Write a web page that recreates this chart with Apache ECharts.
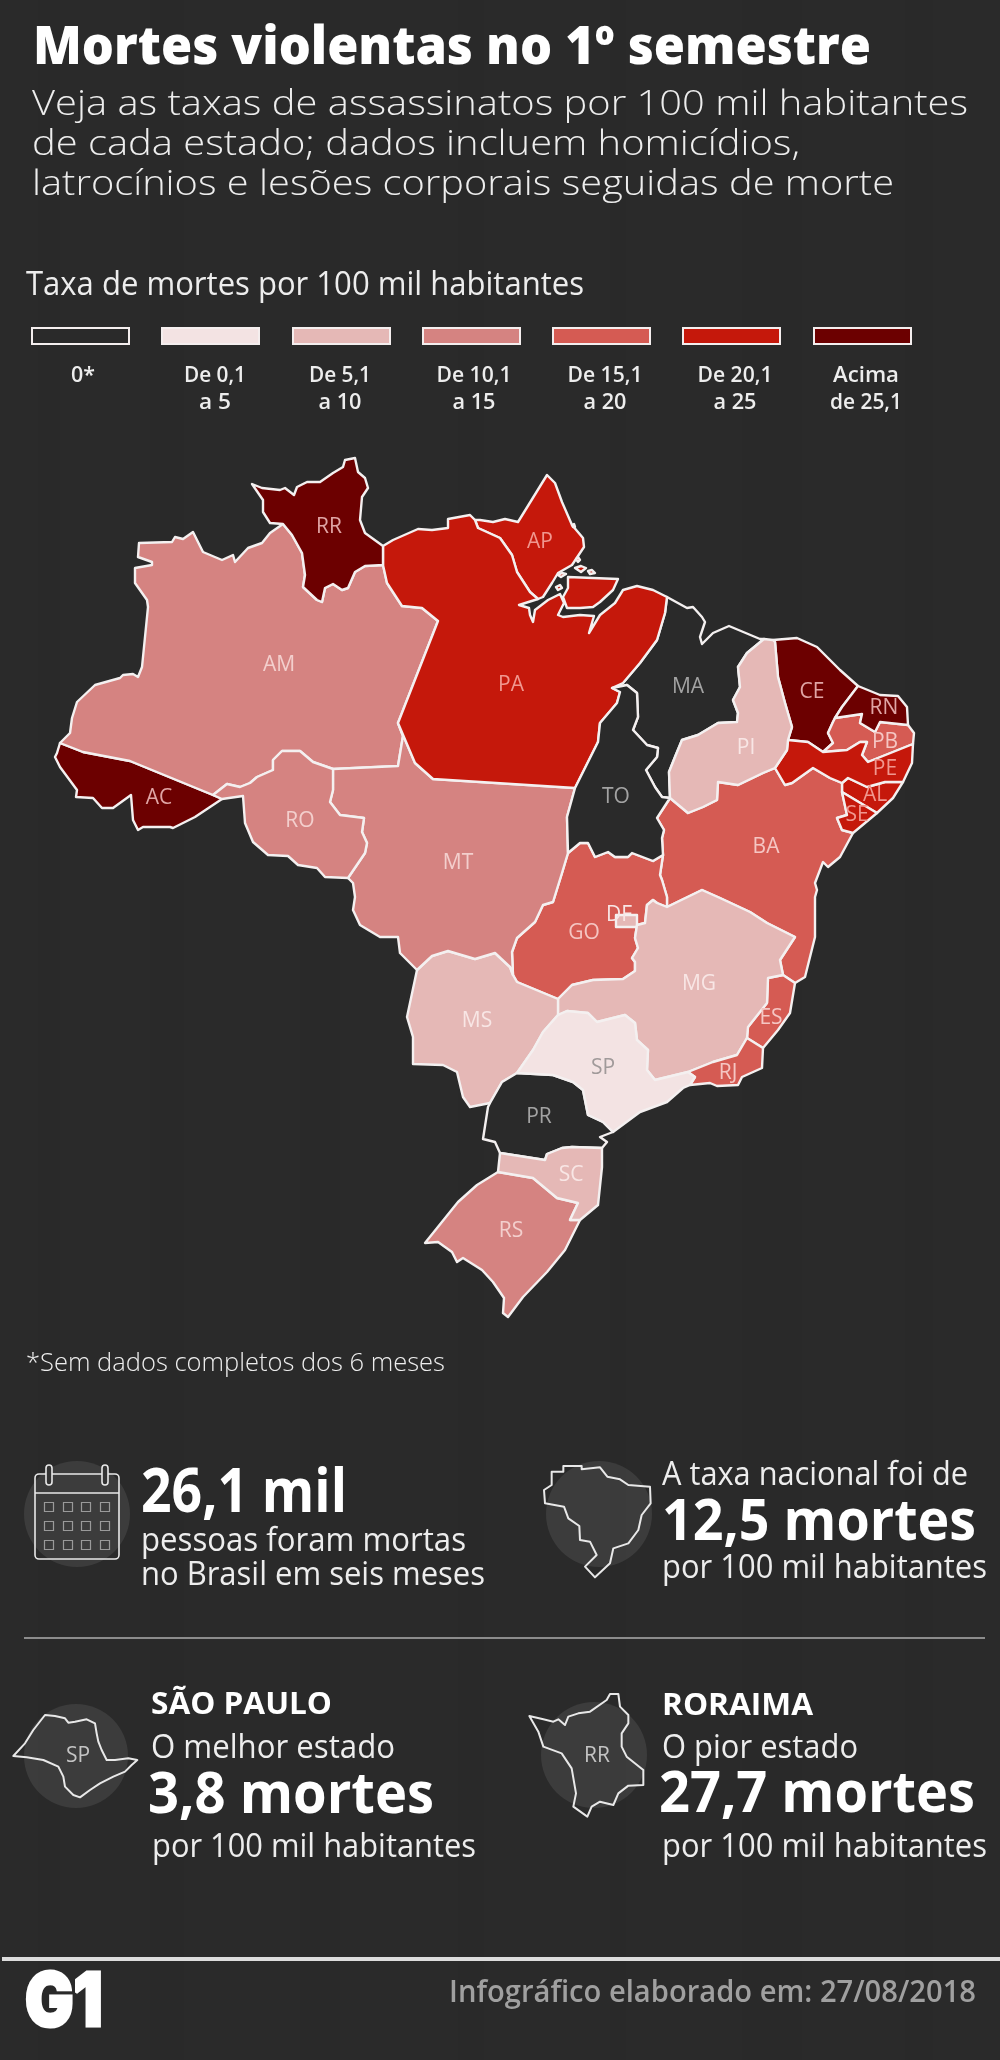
<!DOCTYPE html>
<html>
<head>
<meta charset="utf-8">
<title>Mortes violentas no 1º semestre</title>
<script src="https://cdn.jsdelivr.net/npm/echarts@6/dist/echarts.min.js"></script>
<style>
  html, body { margin: 0; padding: 0; background: #282828; }
  #chart { width: 1000px; height: 2060px; }
</style>
</head>
<body>
<div id="chart"></div>
<script>
// dados
const stateCodes = ['AC','AL','AM','AP','BA','CE','GO','DF','ES','MA','MG','MS','MT','PA','PB','PE','PI','PR','RJ','RN','RO','RR','RS','SC','SE','SP','TO'];
const stateRates = [26, 22, 13, 23, 18, 27, 18, 8, 18, 0, 8, 9, 13, 23, 17, 22, 9, 0, 18, 26, 13, 27.7, 12, 8, 22, 3.8, 0];
const bandLabels = [['0*'], ['De 0,1', 'a 5'], ['De 5,1', 'a 10'], ['De 10,1', 'a 15'], ['De 15,1', 'a 20'], ['De 20,1', 'a 25'], ['Acima', 'de 25,1']];
const bandMin = [0, 0.1, 5.1, 10.1, 15.1, 20.1, 25.1];
const bandMax = [0, 5, 10, 15, 20, 25, 100];
const bandColors = ['#2a2a2a', '#f3e3e3', '#e5b8b6', '#d58381', '#d55b53', '#c5180b', '#6c0000'];
const bandTextColors = ['#a3a3a3', '#a09a9a', '#f8e6e5', '#f3cfcd', '#f5c6c3', '#f0978f', '#e0a5a5'];

// outlines, shared borders are written once
const borders = {
  rrN: [[283,524],[270,523],[263,512],[263,500],[252,484],[262,488],[280,490],[285,488],[294,495],[297,487],[307,482],[320,482],[333,473],[343,467],[345,460],[355,458],[358,472],[365,478],[368,488],[362,497],[360,520],[365,533],[383,546]],
  rrPa: [[383,546],[383,565]],
  rrAm: [[383,565],[365,566],[355,572],[348,588],[342,590],[333,584],[325,588],[322,602],[317,600],[303,587],[305,575],[302,553],[292,535],[283,524]],
  amN: [[60,743],[70,733],[72,718],[77,702],[95,685],[120,678],[123,675],[133,674],[138,677],[142,667],[148,607],[147,600],[135,583],[135,568],[152,565],[152,562],[138,557],[139,543],[172,542],[175,537],[183,539],[193,532],[203,552],[222,560],[233,555],[235,562],[248,548],[262,543],[270,533],[283,524]],
  amPa: [[383,565],[387,583],[402,606],[422,608],[438,621],[398,723]],
  amMt: [[398,723],[403,736],[398,766],[333,769]],
  amRo: [[333,769],[313,762],[300,751],[282,751],[273,760],[273,770],[257,777],[250,783],[240,787],[227,784],[213,795]],
  amAc: [[213,795],[130,761],[83,752],[60,743]],
  acOut: [[60,743],[57,753],[55,757],[60,767],[77,790],[76,797],[93,798],[102,808],[113,808],[131,795],[133,820],[138,830],[143,827],[170,827],[173,828],[195,817],[222,799]],
  acRo: [[222,799],[213,795]],
  roMt: [[333,769],[333,790],[330,802],[340,815],[364,818],[362,832],[367,843],[365,853],[348,878]],
  roS: [[348,878],[325,877],[317,868],[298,865],[288,856],[268,855],[253,842],[245,823],[243,796],[222,799]],
  paMt: [[398,723],[415,763],[433,779],[575,788]],
  toMt: [[575,788],[567,817],[568,853]],
  goMt: [[568,853],[562,873],[553,902],[543,905],[535,922],[517,938],[512,952],[513,975]],
  msMt: [[513,975],[510,967],[495,953],[475,959],[448,951],[432,956],[417,970]],
  mtW: [[417,970],[400,953],[398,937],[380,937],[360,925],[353,910],[355,897],[353,883],[348,878]],
  paN: [[383,546],[393,540],[418,529],[432,530],[448,528],[448,519],[470,515],[475,520]],
  paAp: [[475,520],[478,528],[500,538],[512,555],[517,572],[530,592],[538,599]],
  paCoast: [[538,599],[519,605],[529,608],[530,615],[533,622],[535,610],[548,600],[560,594],[564,603],[558,615],[563,617],[580,615],[594,616],[589,633],[600,615],[615,603],[623,590],[637,586],[653,590],[667,597]],
  paMa: [[667,597],[665,613],[657,640],[640,663],[623,683],[612,688]],
  paTo: [[612,688],[620,692],[617,703],[600,723],[598,742],[575,788]],
  apOut: [[475,520],[480,520],[493,522],[505,519],[518,522],[547,475],[555,483],[562,502],[572,525],[583,538],[584,547],[572,565],[558,573],[552,583],[543,597],[538,599]],
  maN: [[667,597],[687,608],[693,607],[702,617],[705,622],[700,637],[702,644],[713,633],[729,626],[760,639],[764,639]],
  maPi: [[764,639],[747,653],[738,667],[740,687],[733,700],[738,713],[737,722],[718,723],[698,735],[682,740],[675,757],[669,772],[670,798]],
  maTo: [[670,798],[662,797],[655,787],[646,770],[657,757],[658,748],[647,745],[633,730],[638,717],[637,693],[627,685],[612,688]],
  toBa: [[670,798],[657,818],[664,830],[662,838],[663,855]],
  toGo: [[663,855],[653,861],[632,853],[628,857],[615,857],[608,852],[595,857],[588,843],[580,843],[568,853]],
  piN: [[764,639],[773,640]],
  piCe: [[773,640],[775,642],[778,677],[785,703],[792,727],[788,740]],
  piPe: [[788,740],[787,750],[775,768]],
  piBa: [[775,768],[763,773],[738,785],[718,782],[717,800],[703,807],[688,813],[670,798]],
  ceN: [[773,640],[797,638],[817,647],[840,670],[858,686]],
  ceRn: [[858,686],[842,707],[835,718]],
  cePb: [[835,718],[833,722],[828,733],[833,743],[823,752]],
  cePe: [[823,752],[808,742],[788,740]],
  rnE: [[858,686],[880,695],[898,696],[907,707],[908,725]],
  rnPb: [[908,725],[880,722],[875,732],[860,723],[862,714],[835,718]],
  pbE: [[908,725],[914,733],[913,744]],
  pbPe: [[913,744],[868,762],[862,755],[867,742],[860,742],[847,750],[823,752]],
  peE: [[913,744],[912,763],[903,782]],
  peAl: [[903,782],[885,782],[867,787],[848,778],[842,783]],
  peBa: [[842,783],[830,778],[813,768],[792,783],[785,785],[775,768]],
  alE: [[903,782],[893,798],[877,813]],
  alSe: [[877,813],[842,792]],
  alBa: [[842,792],[842,783]],
  seE: [[877,813],[853,833]],
  seBa: [[853,833],[842,830],[837,818],[847,815],[842,792]],
  baE: [[853,833],[840,857],[828,867],[823,862],[815,883],[817,890],[815,897],[815,937],[805,977],[795,983]],
  baEs: [[795,983],[783,975]],
  baMg: [[783,975],[780,960],[795,937],[767,923],[750,912],[720,898],[702,890],[667,907]],
  baGo: [[667,907],[667,897],[662,880],[660,875],[663,855]],
  esE: [[795,983],[790,1013],[778,1030],[763,1048]],
  esRj: [[763,1048],[747,1038]],
  esMg: [[747,1038],[748,1027],[767,1003],[768,978],[783,975]],
  goMg: [[558,999],[572,985],[593,980],[623,979],[635,971],[635,962],[632,958],[638,948],[635,938],[637,925],[645,923],[647,905],[653,900],[657,903],[667,907]],
  rjMg: [[747,1038],[737,1055],[713,1062],[688,1072]],
  mgSp: [[688,1072],[655,1080],[647,1070],[648,1050],[637,1040],[635,1023],[625,1015],[617,1017],[597,1022],[588,1013],[567,1011],[558,1015]],
  msMg: [[558,1015],[558,999]],
  rjE: [[763,1048],[762,1068],[742,1077],[738,1085],[717,1086],[710,1083],[690,1085]],
  rjSp: [[690,1085],[695,1077],[688,1072]],
  spS: [[690,1085],[683,1088],[667,1102],[640,1112],[613,1132]],
  spPr: [[613,1132],[603,1122],[588,1115],[583,1090],[573,1082],[553,1075],[517,1073]],
  msSp: [[517,1073],[533,1050],[543,1032],[558,1015]],
  msGo: [[513,975],[517,982],[558,999]],
  msPr: [[517,1073],[502,1082],[490,1103]],
  msW: [[490,1103],[470,1107],[463,1097],[457,1072],[443,1065],[413,1064],[413,1037],[407,1017],[417,970]],
  prCoast: [[613,1132],[600,1137],[607,1142],[602,1148]],
  prSc: [[602,1148],[572,1147],[562,1148],[547,1154],[545,1160],[500,1153]],
  prW: [[500,1153],[495,1142],[483,1139],[488,1107],[490,1103]],
  scE: [[602,1148],[602,1167],[598,1205],[580,1220]],
  scRs: [[580,1220],[570,1220],[578,1203],[557,1198],[533,1178],[498,1172]],
  scW: [[498,1172],[500,1153]],
  rsOut: [[580,1220],[565,1250],[547,1272],[523,1297],[508,1317],[503,1313],[504,1298],[493,1282],[482,1270],[463,1258],[457,1262],[452,1252],[438,1242],[425,1243],[458,1202],[477,1185],[498,1172]]
};
const rings = {
  RR: ['rrN','rrPa','rrAm'],
  AM: ['amN','-rrAm','amPa','amMt','amRo','amAc'],
  AC: ['acOut','acRo','amAc'],
  RO: ['-amRo','roMt','roS','acRo'],
  MT: ['-roMt','-amMt','paMt','toMt','goMt','msMt','mtW'],
  PA: ['paN','paAp','paCoast','paMa','paTo','-paMt','-amPa','-rrPa'],
  AP: ['apOut','-paAp'],
  MA: ['maN','maPi','maTo','-paMa'],
  TO: ['-maTo','toBa','toGo','-toMt','-paTo'],
  PI: ['piN','piCe','piPe','piBa','-maPi'],
  CE: ['ceN','ceRn','cePb','cePe','-piCe'],
  RN: ['rnE','rnPb','-ceRn'],
  PB: ['-rnPb','pbE','pbPe','-cePb'],
  PE: ['-cePe','-pbPe','peE','peAl','peBa','-piPe'],
  AL: ['-peAl','alE','alSe','alBa'],
  SE: ['-alSe','seE','seBa'],
  BA: ['-piBa','-peBa','-alBa','-seBa','baE','baEs','baMg','baGo','-toBa'],
  ES: ['-baEs','esE','esRj','esMg'],
  MG: ['goMg','-baMg','-esMg','rjMg','mgSp','msMg'],
  RJ: ['-rjMg','-esRj','rjE','rjSp'],
  SP: ['-mgSp','-rjSp','spS','spPr','msSp'],
  MS: ['-msMt','msGo','-msMg','-msSp','msPr','msW'],
  GO: ['-toGo','-baGo','-goMg','-msGo','-goMt'],
  PR: ['-spPr','prCoast','prSc','prW','-msPr'],
  SC: ['-prSc','scE','scRs','scW'],
  RS: ['-scRs','rsOut']
};
const extraShapes = {
  DF: [[[616,915],[637,915],[637,927],[616,927]]],
  PA: [
    [[568,577],[618,579],[613,590],[600,602],[593,607],[580,608],[567,608],[563,597],[568,588]],
    [[575,568],[581,566],[586,568],[581,572]],
    [[588,571],[592,570],[595,573],[590,574]],
    [[558,575],[562,573],[566,574],[561,577]],
    [[576,559],[578,557],[580,560],[578,562]],
    [[556,587],[560,585],[562,588],[558,590]],
    [[572,525],[574,524],[575,527],[573,527]]
  ]
};
const labelAnchors = {
  RR:[329,527],AM:[279,665],AC:[159,798],RO:[300,821],MT:[458,863],PA:[511,685],AP:[540,542],MA:[688,687],TO:[616,797],
  PI:[746,748],CE:[812,692],RN:[884,708],PB:[885,742],PE:[885,769],AL:[875,795],SE:[857,815],BA:[766,847],GO:[584,933],
  DF:[619,915],MG:[699,984],ES:[771,1018],RJ:[728,1073],SP:[603,1068],MS:[477,1021],PR:[539,1117],SC:[571,1175],RS:[511,1231]
};
// y goes down in the picture, the map wants it up
const flip = pts => pts.map(p => [p[0], -p[1]]);

function buildRing(names) {
  const pts = [];
  names.forEach(name => {
    const rev = name[0] === '-';
    let chain = borders[rev ? name.slice(1) : name];
    if (rev) chain = chain.slice().reverse();
    chain.forEach(p => {
      const last = pts[pts.length - 1];
      if (!last || last[0] !== p[0] || last[1] !== p[1]) pts.push(p);
    });
  });
  pts.push(pts[0]);
  return flip(pts);
}

const closeShape = pts => flip(pts.concat([pts[0]]));

function buildGeo() {
  const features = stateCodes.map(code => {
    const polys = [];
    if (rings[code]) polys.push([buildRing(rings[code])]);
    (extraShapes[code] || []).forEach(s => polys.push([closeShape(s)]));
    return {
      type: 'Feature',
      properties: { name: code, cp: [labelAnchors[code][0], -labelAnchors[code][1]] },
      geometry: { type: 'MultiPolygon', coordinates: polys }
    };
  });
  return { type: 'FeatureCollection', features };
}

function bandOf(v) {
  for (let i = 0; i < bandMin.length; i++) {
    if (v >= bandMin[i] && v <= bandMax[i]) return i;
  }
  return 0;
}

// text helpers
const ctx = document.createElement('canvas').getContext('2d');
const FONT = '"Open Sans", sans-serif';

// baseline is the y of the text foot, width squeezes the line to what the picture measures
function txt(text, x, baseline, size, weight, fill, width, align) {
  const font = weight + ' ' + size + 'px ' + FONT;
  ctx.font = font;
  const scaleX = width ? width / ctx.measureText(text).width : 1;
  return {
    type: 'text', x, y: baseline - size * 0.3, scaleX, z: 10,
    style: { text, fill, font, textAlign: align || 'left', textVerticalAlign: 'middle' }
  };
}

function outline(points) {
  return {
    type: 'polygon', z: 6, shape: { points },
    style: { fill: 'none', stroke: '#e8e8e8', lineWidth: 2, lineJoin: 'round' }
  };
}

function disc(cx, cy, r) {
  return { type: 'circle', z: 5, shape: { cx, cy, r }, style: { fill: 'rgba(255,255,255,0.085)' } };
}

const WHITE = '#ffffff';
const SOFT = '#ededed';

const elements = [
  txt('Mortes violentas no 1º semestre', 33, 65, 53, 800, WHITE, 838),
  txt('Veja as taxas de assassinatos por 100 mil habitantes', 32, 116, 35, 300, SOFT, 936),
  txt('de cada estado; dados incluem homicídios,', 32, 156, 35, 300, SOFT, 768),
  txt('latrocínios e lesões corporais seguidas de morte', 32, 196, 35, 300, SOFT, 862),
  txt('Taxa de mortes por 100 mil habitantes', 26, 295, 32, 400, SOFT, 558),
  txt('*Sem dados completos dos 6 meses', 26, 1371, 26, 300, SOFT, 419),

  txt('26,1 mil', 141, 1513, 60, 700, WHITE, 206),
  txt('pessoas foram mortas', 141, 1551, 32, 400, SOFT, 325),
  txt('no Brasil em seis meses', 141, 1585, 32, 400, SOFT, 344),

  txt('A taxa nacional foi de', 662, 1485, 32, 400, SOFT, 306),
  txt('12,5 mortes', 662, 1541, 57, 700, WHITE, 314),
  txt('por 100 mil habitantes', 662, 1578, 32, 400, SOFT, 325),

  txt('SÃO PAULO', 151, 1714, 30, 700, WHITE, 181),
  txt('O melhor estado', 151, 1758, 32, 400, SOFT, 244),
  txt('3,8 mortes', 148, 1814, 57, 700, WHITE, 286),
  txt('por 100 mil habitantes', 152, 1857, 32, 400, SOFT, 324),

  txt('RORAIMA', 662, 1715, 30, 700, WHITE, 151),
  txt('O pior estado', 662, 1758, 32, 400, SOFT, 196),
  txt('27,7 mortes', 659, 1813, 57, 700, WHITE, 316),
  txt('por 100 mil habitantes', 662, 1857, 32, 400, SOFT, 325),

  txt('Infográfico elaborado em: 27/08/2018', 449, 2002, 30, 600, '#a0a0a0', 527),

  { type: 'line', z: 4, shape: { x1: 24, y1: 1638, x2: 985, y2: 1638 }, style: { stroke: '#8c8c8c', lineWidth: 2 } },
  { type: 'line', z: 4, shape: { x1: 2, y1: 1959, x2: 1000, y2: 1959 }, style: { stroke: '#dcdcdc', lineWidth: 4 } },
  {
    type: 'text', x: 25, y: 2004, z: 10, scaleX: 0.87,
    style: { text: 'G1', fill: WHITE, stroke: WHITE, lineWidth: 3, font: '900 74px Inter, sans-serif', textAlign: 'left', textVerticalAlign: 'middle' }
  },

  disc(77, 1514, 53),
  disc(599, 1514, 53),
  disc(76, 1756, 52),
  disc(594, 1755, 53),

  // calendar
  { type: 'rect', z: 6, shape: { x: 35, y: 1474, width: 84, height: 85, r: 4 }, style: { fill: 'none', stroke: '#e8e8e8', lineWidth: 1.6 } },
  { type: 'line', z: 6, shape: { x1: 35, y1: 1493, x2: 119, y2: 1493 }, style: { stroke: '#e8e8e8', lineWidth: 1.6 } }
];

// faint chalk streaks of the backdrop
const streakX = [38, 96, 150, 214, 300, 372, 458, 520, 610, 668, 742, 830, 905, 960];
const streakW = [22, 10, 34, 14, 40, 12, 26, 48, 16, 30, 60, 18, 28, 14];
streakX.forEach((x, i) => {
  elements.push({
    type: 'rect', z: 0, shape: { x, y: 0, width: streakW[i], height: 2060 },
    style: { fill: i % 2 ? 'rgba(255,255,255,0.005)' : 'rgba(0,0,0,0.015)' }
  });
});

[49, 105].forEach(x => {
  elements.push({
    type: 'rect', z: 7, shape: { x: x - 3, y: 1465, width: 6, height: 20, r: 3 },
    style: { fill: '#333', stroke: '#e8e8e8', lineWidth: 1.6 }
  });
});
[1507, 1526, 1545].forEach(y => {
  [49, 68, 86, 105].forEach(x => {
    elements.push({
      type: 'rect', z: 6, shape: { x: x - 4.5, y: y - 4.5, width: 9, height: 9 },
      style: { fill: 'none', stroke: '#9a9a9a', lineWidth: 1.2 }
    });
  });
});

// icons, traced with the zoom crops
const zoomed = (ox, oy, pts) => pts.map(p => [ox + p[0] / 3, oy + p[1] / 3]);
elements.push(outline(zoomed(500, 1440, [[155,95],[190,95],[190,78],[245,78],[245,88],[300,82],[322,110],[360,118],[385,135],[450,140],[452,190],[425,225],[415,270],[385,310],[340,325],[330,370],[285,412],[255,380],[290,345],[270,305],[240,300],[238,258],[205,235],[192,200],[135,190],[132,150],[155,135]])));
elements.push(outline(zoomed(0, 1680, [[40,228],[75,190],[100,150],[135,105],[165,108],[195,115],[205,128],[225,125],[260,118],[285,130],[290,160],[295,185],[305,210],[320,240],[345,240],[385,235],[412,240],[395,255],[375,275],[340,290],[300,310],[270,330],[240,352],[220,345],[195,320],[190,290],[175,260],[130,240],[80,232]])));
elements.push(outline(zoomed(500, 1440, [[88,828],[130,838],[160,845],[175,838],[195,855],[205,830],[235,820],[270,815],[320,780],[330,762],[355,762],[360,800],[385,825],[385,850],[365,880],[365,920],[380,950],[430,990],[430,1035],[385,1037],[355,1060],[340,1095],[300,1085],[275,1100],[262,1130],[220,1100],[228,1060],[215,985],[185,940],[130,920],[115,875]])));
elements.push(txt('SP', 78, 1762, 21, 400, '#c4c4c4', 0, 'center'));
elements.push(txt('RR', 597, 1762, 21, 400, '#c4c4c4', 0, 'center'));

// legend swatches
const swatchX = [32, 162, 293, 423, 553, 683, 814];
const labelX = [83, 215, 340, 474, 605, 735, 866];
const labelWidths = [[24], [62, 32], [62, 43], [75, 43], [75, 43], [75, 43], [66, 72]];
bandColors.forEach((color, i) => {
  elements.push({
    type: 'rect', z: 6, shape: { x: swatchX[i], y: 328, width: 97, height: 16 },
    style: { fill: color, stroke: '#f4eeee', lineWidth: 2 }
  });
  bandLabels[i].forEach((line, j) => {
    elements.push(txt(line, labelX[i], 382 + j * 27, 22, 600, SOFT, labelWidths[i][j], 'center'));
  });
});

echarts.registerMap('brasil', buildGeo());

const chart = echarts.init(document.getElementById('chart'), null, { renderer: 'canvas' });
chart.setOption({
  animation: false,
  backgroundColor: '#2a2a2a',
  visualMap: {
    show: false,
    type: 'piecewise',
    seriesIndex: 0,
    pieces: bandMin.map((min, i) => ({ min, max: bandMax[i], color: bandColors[i] }))
  },
  series: [{
    type: 'map',
    map: 'brasil',
    roam: false,
    silent: true,
    left: 0,
    top: 0,
    width: 1000,
    height: 2060,
    aspectScale: 1,
    boundingCoords: [[0, 0], [1000, -2060]],
    itemStyle: { borderColor: '#f4f0f0', borderWidth: 2.4, borderJoin: 'round' },
    label: { show: true, fontFamily: 'Open Sans', fontSize: 21, fontWeight: 500 },
    data: stateCodes.map((name, i) => ({
      name,
      value: stateRates[i],
      label: { color: bandTextColors[bandOf(stateRates[i])] }
    }))
  }],
  graphic: { elements }
});
</script>
</body>
</html>
